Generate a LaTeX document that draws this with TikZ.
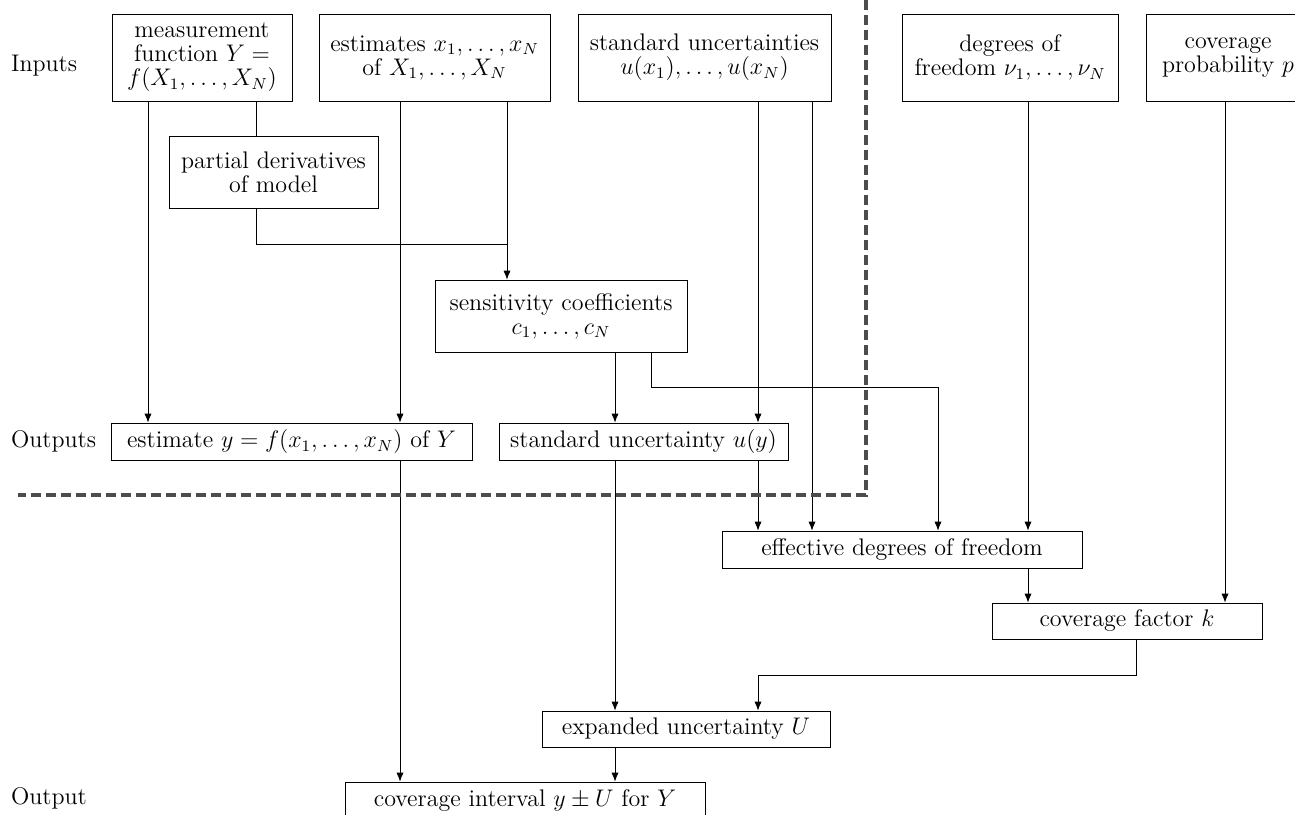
\documentclass[tikz,border=0pt]{standalone}
\usetikzlibrary{arrows.meta}
\begin{document}
\begin{tikzpicture}[x=0.5pt,y=-0.5pt,>={Latex[length=4.5pt,width=3.6pt]},
  every node/.append style={font=\fontsize{12}{12}\selectfont},
  blk/.style 2 args={draw,align=center,inner sep=0pt,minimum width=0.5pt*#1,minimum height=0.5pt*#2},
  sep/.style={line width=2pt,black!70,dash pattern=on 5pt off 2.5pt}]
\useasboundingbox (0,0) rectangle (1295,814);
\clip (0,0) rectangle (1295,814);
% row labels
\node[anchor=west] (lin) at (4,66) {Inputs};
\node[anchor=west] (lout) at (4,441) {Outputs};
\node[anchor=west] (lfin) at (4,798) {Output};
%
% inputs
\node[blk={180}{87}] (meas) at (202,57.5) {measurement\\ function $Y =$\\ $f(X_1,\ldots,X_N)$};
\node[blk={231}{87}] (est) at (434.5,57.5) {estimates $x_1,\ldots,x_N$\\ of $X_1,\ldots,X_N$};
\node[blk={253}{87}] (std) at (704.5,57.5) {standard uncertainties\\ $u(x_1),\ldots,u(x_N)$};
\node[blk={216}{87}] (dof) at (1010,57.5) {degrees of\\ freedom $\nu_1,\ldots,\nu_N$};
\node[blk={164}{87}] (prob) at (1228,57.5) {coverage\\ probability $p$};
%
\node[blk={209}{72}] (pd) at (273.5,172) {partial derivatives\\ of model};
\node[blk={252}{72}] (sens) at (561,316) {sensitivity coefficients\\ $c_1,\ldots,c_N$};
%
% outputs
\node[blk={361}{37}] (esty) at (291.5,441.5) {estimate $y=f(x_1,\ldots,x_N)$ of $Y$};
\node[blk={289}{37}] (uy) at (643.5,441.5) {standard uncertainty $u(y)$};
%
\node[blk={360}{37}] (eff) at (902,549.5) {effective degrees of freedom};
\node[blk={270}{36}] (kf) at (1127,621) {coverage factor $k$};
\node[blk={288}{36}] (U) at (686,729) {expanded uncertainty $U$};
\node[blk={360}{37}] (ci) at (525,800.5) {coverage interval $y\pm U$ for $Y$};
%
% columns of the connectors
\coordinate (cA) at (148,0);
\coordinate (cB) at (256,0);
\coordinate (cC) at (400,0);
\coordinate (cD) at (507,0);
\coordinate (cE) at (615,0);
\coordinate (cF) at (651,0);
\coordinate (cG) at (758,0);
\coordinate (cH) at (812,0);
\coordinate (cI) at (938,0);
\coordinate (cJ) at (1028,0);
\coordinate (cK) at (1136,0);
\coordinate (cL) at (1225,0);
\coordinate (jn) at (507,244);
\coordinate (kn) at (938,387);
\coordinate (kt) at (758,675);
%
\draw[->] (meas.south -| cA) -- (esty.north -| cA);
\draw (meas.south -| cB) -- (pd.north -| cB);
\draw (pd.south -| cB) |- (jn);
\draw[->] (est.south -| cD) -- (sens.north -| cD);
\draw[->] (est.south -| cC) -- (esty.north -| cC);
\draw[->] (esty.south -| cC) -- (ci.north -| cC);
%
\draw[->] (sens.south -| cE) -- (uy.north -| cE);
\draw[->] (uy.south -| cE) -- (U.north -| cE);
\draw[->] (U.south -| cE) -- (ci.north -| cE);
\draw[->] (sens.south -| cF) |- (kn) -- (eff.north -| cI);
%
\draw[->] (std.south -| cG) -- (uy.north -| cG);
\draw[->] (uy.south -| cG) -- (eff.north -| cG);
\draw[->] (std.south -| cH) -- (eff.north -| cH);
%
\draw[->] (dof.south -| cJ) -- (eff.north -| cJ);
\draw[->] (eff.south -| cJ) -- (kf.north -| cJ);
\draw[->] (prob.south -| cL) -- (kf.north -| cL);
\draw[->] (kf.south -| cK) |- (kt) -- (U.north -| cG);
%
% inputs / outputs border
\draw[sep] (866,0) -- (866,495) -- (18,495);
\end{tikzpicture}
\end{document}
